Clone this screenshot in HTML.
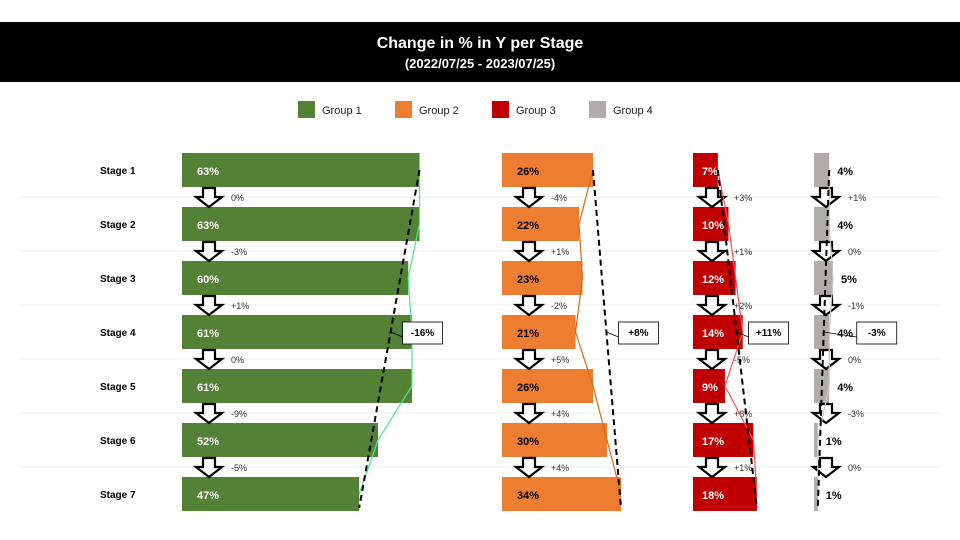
<!DOCTYPE html>
<html><head><meta charset="utf-8"><style>
body{margin:0;background:#fff;font-family:"Liberation Sans",Arial,sans-serif}
svg{display:block}
</style></head><body>
<svg id="c" width="960" height="540" xmlns="http://www.w3.org/2000/svg">
<rect x="0" y="22" width="960" height="60" fill="#000"/>
<text x="480" y="48" text-anchor="middle" fill="#fff" font-size="16" font-weight="bold">Change in % in Y per Stage</text>
<text x="480" y="68" text-anchor="middle" fill="#fff" font-size="13" font-weight="bold">(2022/07/25 - 2023/07/25)</text>
<g id="legend"></g>
<g id="plot"></g>
</svg>
<script>
const stages=["Stage 1","Stage 2","Stage 3","Stage 4","Stage 5","Stage 6","Stage 7"];
const groups=["Group 1","Group 2","Group 3","Group 4"];
const g1=[63,63,60,61,61,52,47];
const g2=[26,22,23,21,26,30,34];
const g3=[7,10,12,14,9,17,18];
const g4=[4,4,5,4,4,1,1];
const g1chg=["0%","-3%","+1%","0%","-9%","-5%"];
const g2chg=["-4%","+1%","-2%","+5%","+4%","+4%"];
const g3chg=["+3%","+1%","+2%","-5%","+8%","+1%"];
const g4chg=["+1%","0%","-1%","0%","-3%","0%"];
const totals=["-16%","+8%","+11%","-3%"];
const NS="http://www.w3.org/2000/svg";
const svg=document.getElementById('plot'),leg=document.getElementById('legend');
function el(t,a,p){const e=document.createElementNS(NS,t);for(const k in a)e.setAttribute(k,a[k]);(p||svg).appendChild(e);return e;}
const cfg=[
{vals:g1,chg:g1chg,x0:182,sc:3.77,col:"#538135",line:"#4ee88f",lab:"#fff",out:false,ao:27,co:12},
{vals:g2,chg:g2chg,x0:502,sc:3.5,col:"#ed7d31",line:"#d9671c",lab:"#000",out:false,ao:27,co:12},
{vals:g3,chg:g3chg,x0:693,sc:3.55,col:"#c00000",line:"#ff4d4d",lab:"#fff",out:false,ao:19,co:12},
{vals:g4,chg:g4chg,x0:814,sc:3.8,col:"#b0acac",line:"#c8c8c8",lab:"#000",out:true,ao:12,co:33}];
const rowY=i=>170+54*i;
const lx=[298,395,492,589];
groups.forEach((g,i)=>{
 const r=el('rect',{x:lx[i],y:101,width:17,height:17,fill:cfg[i].col},leg);
 
 
 const t=el('text',{x:lx[i]+24,y:114,'font-size':11,fill:'#222'},leg);t.textContent=g;
 
 
});
for(let i=0;i<6;i++){const l=el('line',{x1:20,x2:940,y1:rowY(i)+27,y2:rowY(i)+27,stroke:'#ececec','stroke-width':1});
 
 }
stages.forEach((s,i)=>{const t=el('text',{x:100,y:rowY(i)+4,'font-size':10,'font-weight':'bold',fill:'#000'});t.textContent=s;
 
 });
function arrow(cx,y){const p=`M${cx-6},${y} L${cx+6},${y} L${cx+6},${y+9} L${cx+13},${y+9} L${cx},${y+19} L${cx-13},${y+9} L${cx-6},${y+9} Z`;
 const a=el('path',{d:p,fill:'#fff',stroke:'#000','stroke-width':2.2});
 
 }
cfg.forEach((c,gi)=>{
 const xe=v=>c.x0+v*c.sc;
 c.vals.forEach((v,i)=>{
  const r=el('rect',{x:c.x0,y:rowY(i)-17,width:v*c.sc,height:34,fill:c.col});
  
  
  const t=el('text',{x:c.out?xe(v)+8:c.x0+(gi==2?9:15),y:rowY(i)+5,'font-size':11,'font-weight':'bold',fill:c.lab});
  t.textContent=v+'%';
  
  
 });
 c.chg.forEach((s,i)=>{
  const ax=c.x0+c.ao;
  arrow(ax,rowY(i)+18);
  const t=el('text',{x:ax+22,y:rowY(i)+31,'font-size':9,fill:'#333'});t.textContent=s;
  
  
 });
 const pts=c.vals.map((v,i)=>xe(v)+','+rowY(i)).join(' ');
 const pl=el('polyline',{points:pts,fill:'none',stroke:c.line,'stroke-width':1.2});
 
 
 const n=c.vals.length-1;
 const x1=xe(c.vals[0]),y1=rowY(0),x2=xe(c.vals[n]),y2=rowY(n)+14;
 const dl=el('line',{x1:x1,y1:y1,x2:x2,y2:y2,stroke:'#000','stroke-width':2,'stroke-dasharray':'6,4'});
 
 
 const ym=rowY(3);const xm=x1+(x2-x1)*(ym-y1)/(y2-y1);
 const bx=xm+c.co;
 const ld=el('line',{x1:xm,y1:ym,x2:bx,y2:ym+5,stroke:'#000','stroke-width':0.8});
 
 
 const b=el('rect',{x:bx,y:ym-10,width:40,height:22,fill:'#fff',stroke:'#000','stroke-width':0.8});
 
 
 const t=el('text',{x:bx+20,y:ym+4,'text-anchor':'middle','font-size':10,'font-weight':'bold',fill:'#000'});t.textContent=totals[gi];
 
 
});
</script>
</body></html>
